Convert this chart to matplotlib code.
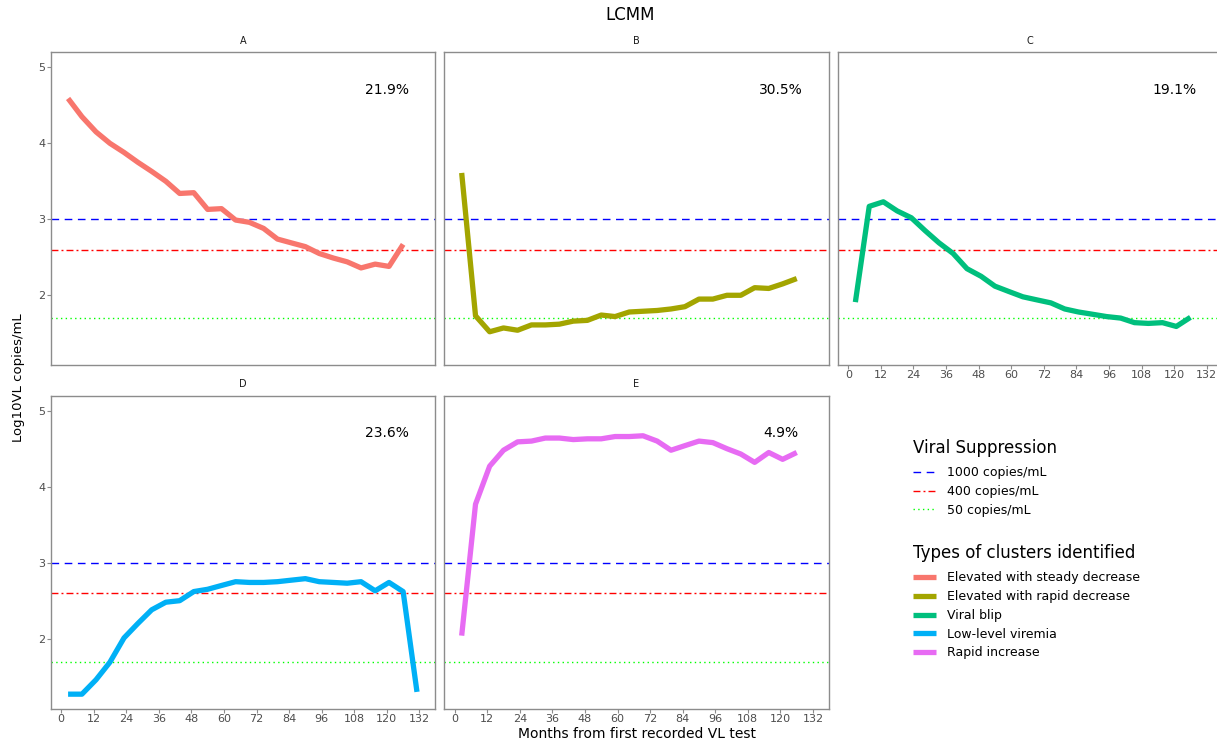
import matplotlib
matplotlib.use("Agg")
import matplotlib.pyplot as plt
from matplotlib.lines import Line2D

plt.rcParams['font.family'] = ['DejaVu Sans']
plt.rcParams['lines.scale_dashes'] = False

# ---- data ----
months = [2.6, 7.7, 12.9, 18.0, 23.2, 28.3, 33.4, 38.6, 43.7, 48.9, 54.0, 59.1, 64.3,
          69.4, 74.6, 79.7, 84.8, 90.0, 95.1, 100.3, 105.4, 110.5, 115.7, 120.8, 126.0, 131.1]

vl_A = [4.59, 4.35, 4.15, 4.00, 3.88, 3.75, 3.63, 3.50, 3.34, 3.35, 3.13, 3.14, 2.99,
        2.96, 2.88, 2.74, 2.69, 2.64, 2.55, 2.49, 2.44, 2.36, 2.41, 2.38, 2.67]
vl_B = [3.61, 1.73, 1.52, 1.57, 1.54, 1.61, 1.61, 1.62, 1.66, 1.67, 1.74, 1.72, 1.78,
        1.79, 1.80, 1.82, 1.85, 1.95, 1.95, 2.00, 2.00, 2.10, 2.09, 2.15, 2.22]
vl_C = [1.91, 3.17, 3.23, 3.11, 3.02, 2.85, 2.69, 2.55, 2.35, 2.25, 2.12, 2.05, 1.98,
        1.94, 1.90, 1.82, 1.78, 1.75, 1.72, 1.70, 1.64, 1.63, 1.64, 1.59, 1.71]
vl_D = [1.27, 1.27, 1.46, 1.69, 2.01, 2.20, 2.38, 2.48, 2.50, 2.62, 2.65, 2.70, 2.75,
        2.74, 2.74, 2.75, 2.77, 2.79, 2.75, 2.74, 2.73, 2.75, 2.63, 2.74, 2.62, 1.30]
vl_E = [2.04, 3.77, 4.27, 4.48, 4.59, 4.60, 4.64, 4.64, 4.62, 4.63, 4.63, 4.66, 4.66,
        4.67, 4.60, 4.48, 4.54, 4.60, 4.58, 4.50, 4.43, 4.32, 4.45, 4.36, 4.45]

panels = ['A', 'B', 'C', 'D', 'E']
pct_labels = ['21.9%', '30.5%', '19.1%', '23.6%', '4.9%']
cluster_labels = ['Elevated with steady decrease', 'Elevated with rapid decrease',
                  'Viral blip', 'Low-level viremia', 'Rapid increase']
cluster_colors = ['#F8766D', '#A3A500', '#00BF7D', '#00B0F6', '#E76BF3']
series = [vl_A, vl_B, vl_C, vl_D, vl_E]

thresholds = [3.0, 2.602, 1.699]
threshold_labels = ['1000 copies/mL', '400 copies/mL', '50 copies/mL']
threshold_colors = ['#0000FF', '#FF0000', '#00FF00']
threshold_styles = [(0, (5.5, 4.0)), (0, (5.0, 2.2, 1.4, 2.2)), (0, (1.0, 2.4))]

x_ticks = list(range(0, 133, 12))
y_ticks = [2, 3, 4, 5]

# ---- layout (pixel boxes of the reference) ----
W, H = 1217, 743
fig = plt.figure(figsize=(W / 100, H / 100), dpi=100)
fig.patch.set_facecolor('white')

pw, ph = 384.2, 313.1
lefts = [50.7, 444.3, 838.0, 50.7, 444.3]
tops = [52.1, 52.1, 52.1, 395.5, 395.5]

for i, name in enumerate(panels):
    ax = fig.add_axes([lefts[i] / W, 1 - (tops[i] + ph) / H, pw / W, ph / H])
    ax.set_xlim(-3.8, 137.7)
    ax.set_ylim(1.08, 5.2)

    for y, c, ls in zip(thresholds, threshold_colors, threshold_styles):
        ax.axhline(y, color=c, linestyle=ls, lw=1.0, zorder=1)

    vals = series[i]
    ax.plot(months[:len(vals)], vals, color=cluster_colors[i], lw=3.8,
            solid_capstyle='butt', solid_joinstyle='round', zorder=2)

    ax.text(120, 4.7, pct_labels[i], ha='center', va='center', fontsize=10, color='black')
    ax.text(0.5, 1.037, name, transform=ax.transAxes, ha='center', va='center',
            fontsize=7, color='#1A1A1A')

    for sp in ax.spines.values():
        sp.set_color('#8C8C8C')
        sp.set_linewidth(1.0)

    ax.tick_params(colors='#8C8C8C', labelcolor='#4D4D4D', labelsize=8,
                   length=2.8, width=0.8, pad=1.0)
    if name in ('A', 'D'):
        ax.set_yticks(y_ticks)
    else:
        ax.set_yticks([])
    if name in ('C', 'D', 'E'):
        ax.set_xticks(x_ticks)
    else:
        ax.set_xticks([])

fig.text(630 / W, 1 - 15 / H, 'LCMM', ha='center', va='center', fontsize=12)
fig.text(637 / W, 1 - 738.5 / H, 'Months from first recorded VL test',
         ha='center', va='baseline', fontsize=10)
fig.text(18.5 / W, 1 - 378 / H, 'Log10VL copies/mL', rotation=90,
         ha='center', va='center', fontsize=9.5)

# ---- legends ----
supp_handles = [Line2D([], [], color=c, lw=1.0, linestyle=ls)
                for c, ls in zip(threshold_colors, threshold_styles)]
leg1 = fig.legend(supp_handles, threshold_labels, title='Viral Suppression',
                  loc='upper left', bbox_to_anchor=(913 / W, 1 - 439.2 / H),
                  frameon=False, fontsize=9, title_fontsize=12, alignment='left',
                  handlelength=1.8, handletextpad=0.95, labelspacing=0.46,
                  borderpad=0, borderaxespad=0)

clus_handles = [Line2D([], [], color=c, lw=3.8, solid_capstyle='butt')
                for c in cluster_colors]
leg2 = fig.legend(clus_handles, cluster_labels, title='Types of clusters identified',
                  loc='upper left', bbox_to_anchor=(913 / W, 1 - 544.3 / H),
                  frameon=False, fontsize=9, title_fontsize=12, alignment='left',
                  handlelength=1.8, handletextpad=0.95, labelspacing=0.46,
                  borderpad=0, borderaxespad=0)

# a bit more room between legend title and first key, like ggplot
for leg in (leg1, leg2):
    leg._legend_box.sep = 6.6

fig.savefig('out.png', dpi=100, facecolor='white')
